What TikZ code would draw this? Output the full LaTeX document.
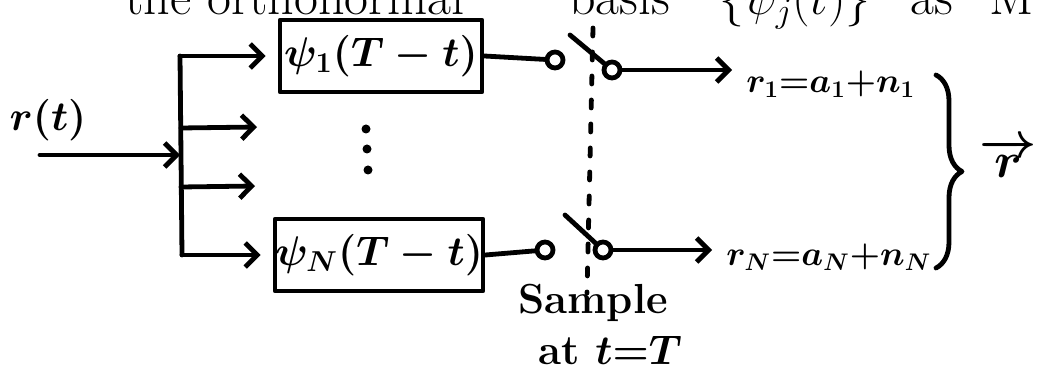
\documentclass[tikz,border=0pt]{standalone}
\usetikzlibrary{arrows.meta,decorations.pathreplacing}
\begin{document}
\begin{tikzpicture}[x=0.5pt,y=-0.5pt,
  line width=2.4pt, line cap=round, line join=round,
  arr/.style={-{Straight Barb[length=6pt,width=12pt]}},
  blk/.style={draw, minimum width=101pt, minimum height=36pt, inner sep=0pt, font=\fontsize{20}{22}\selectfont\boldmath},
  lbl/.style={inner sep=0pt, font=\fontsize{18.5}{22}\selectfont\boldmath},
  hdr/.style={inner sep=0pt, anchor=base west, font=\fontsize{26}{28}\selectfont},
  contact/.style={circle, draw, fill=white, minimum size=8pt, inner sep=0pt},
  sampling/.style={dash pattern=on 4pt off 8pt},
  dotmark/.style={circle, fill, minimum size=4.5pt, inner sep=0pt},
]
\useasboundingbox (0,0) rectangle (1044,379);
\clip (0,0) rectangle (1044,379);

% header (cut at the top edge)
\node[hdr] (h1) at (123,15) {the orthonormal};
\node[hdr] (h2) at (567,15) {basis};
\node[hdr] (h3) at (717,15) {$\{\psi_j(t)\}$};
\node[hdr] (h4) at (908,15) {as};
\node[hdr] (h5) at (987,15) {M};

% input and bus
\node[inner sep=0pt, font=\fontsize{21}{26}\selectfont\boldmath] (rt) at (48,120) {$r(t)$};
\coordinate (in) at (40,155);
\coordinate (bj) at (180,155);
\coordinate (bt) at (180,56);
\coordinate (bb) at (182,255);
\draw[arr] (in) -- (bj);
\draw (bt) -- (bb);

% filters
\node[blk] (f1) at (381,56) {$\psi_1(T-t)$};
\node[blk] (fN) at (379,255) {$\psi_N(T-t)$};
\draw[arr, shorten >=6pt] (bt) -- (f1.west);
\draw[arr, shorten >=6pt] (bb) -- (fN.west);
\coordinate (m1) at (181,128);
\coordinate (m1e) at (257,127);
\coordinate (m2) at (181,187);
\coordinate (m2e) at (255,186);
\draw[arr] (m1) -- (m1e);
\draw[arr] (m2) -- (m2e);
\node[dotmark] (d1) at (366,129) {};
\node[dotmark] (d2) at (367,149) {};
\node[dotmark] (d3) at (368,170) {};

% sampling line
\coordinate (s1) at (593,28);
\coordinate (s2) at (587,293);
\draw[sampling] (s1) -- (s2);

% switches
\node[contact] (c1l) at (555,60) {};
\node[contact] (c1r) at (612,70) {};
\coordinate (b1) at (570,35);
\draw (f1.east) -- (c1l);
\draw (b1) -- (c1r);
\node[contact] (cNl) at (545,250) {};
\node[contact] (cNr) at (603,250) {};
\coordinate (bN) at (565,215);
\draw (fN.east) -- (cNl);
\draw (bN) -- (cNr);

% outputs
\node[lbl, anchor=west] (r1) at (744,84) {$r_1{=}a_1{+}n_1$};
\node[lbl, anchor=west] (rN) at (724,257) {$r_N{=}a_N{+}n_N$};
\coordinate (o1) at (732,70);
\coordinate (oN) at (712,250);
\draw[arr] (c1r) -- (o1);
\draw[arr] (cNr) -- (oN);

% brace and vector
\coordinate (bra) at (936,75);
\coordinate (brb) at (936,268);
\draw[decorate, decoration={brace, amplitude=13pt}] (bra) -- (brb);
\node[font=\fontsize{46}{50}\selectfont\boldmath] (vr) at (1008,158) {$\overrightarrow{r}$};

% sample label
\node[font=\fontsize{21}{25}\selectfont\bfseries] (smp) at (593,303) {Sample};
\node[font=\fontsize{21}{25}\selectfont\bfseries\boldmath] (at) at (610,350) {at $t{=}T$};
\end{tikzpicture}
\end{document}
